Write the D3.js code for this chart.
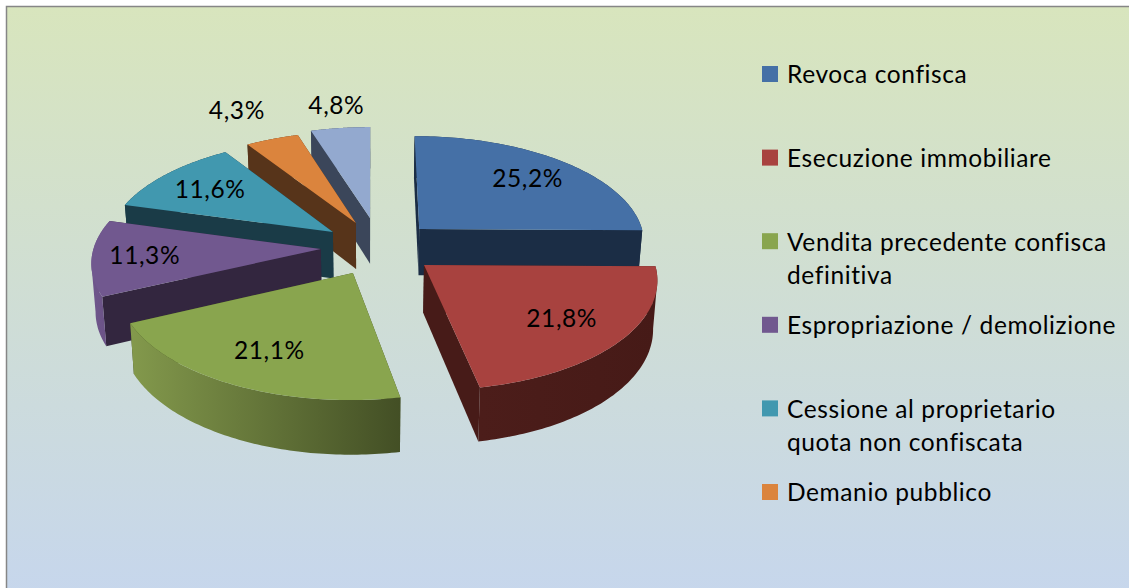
<!DOCTYPE html>
<html>
<head>
<meta charset="utf-8">
<script src="https://cdn.jsdelivr.net/npm/d3@7"></script>
<style>
    body { margin: 0; background: #fff; }
    svg { display: block; }
    text { font-family: Lato, "Open Sans", sans-serif; font-size: 24.5px; letter-spacing: 0.6px; fill: #000; }
</style>
</head>
<body>
<div id="chart-area"></div>
<script>
// Chart data
const categories = [
    ["Revoca confisca"],
    ["Esecuzione immobiliare"],
    ["Vendita precedente confisca", "definitiva"],
    ["Espropriazione / demolizione"],
    ["Cessione al proprietario", "quota non confiscata"],
    ["Demanio pubblico"],
    [] // last slice has no legend entry in the original
];
const values = [25.2, 21.8, 21.1, 11.3, 11.6, 4.3, 4.8];

// Slice colours
const topColors = ["#4570a6", "#a8423f", "#89a54e", "#71588f", "#4198af", "#db843d", "#93a9cf"];
const faceColors = ["#1b2d45", "#471b18", "#3f4a22", "#33263f", "#1a3b47", "#57341a", "#3b465a"];
const rimColors = [
    ["#1b2d45", "#1b2d45"],
    ["#4c1d1a", "#461a17"],
    ["#83994c", "#434f25"],
    ["#6f568c", "#6a5285"],
    ["#1a3b47", "#1a3b47"],
    ["#57341a", "#57341a"],
    ["#3b465a", "#3b465a"]
];

// Layout of the tilted pie
const width = 1129, height = 588;
const pieCenter = {x: 372, y: 243};
const radiusX = 226, radiusY = 106;
const perspective = 0.11;
const depth = 47;
const bottomShrink = 0.985;

// Explosion of each slice, in pie radius units, and where its label sits
const explode = [[0.212, -0.134], [0.225, 0.203], [-0.082, 0.274], [-0.225, 0.056], [-0.175, -0.105], [-0.073, -0.193], [-0.009, -0.243]];
const labelRadius = [0.74, 0.72, 0.72, 0.77, 0.725, 1.40, 1.285];
const labelTurn = [0, 0, 0, 0, 0, -1.3, 0.8];
const drawOrder = [6, 5, 4, 3, 0, 1, 2];

// Legend layout
const legend = {swatchX: 762, swatch: 16, textX: 787, firstY: 75, rowGap: 83.6, lineGap: 33};

let svg = d3.select('#chart-area').append('svg')
    .attr('width', width)
    .attr('height', height);

let defs = svg.append('defs');

let bg = defs.append('linearGradient')
    .attr('id', 'bg-gradient')
    .attr('x1', 0).attr('y1', 0).attr('x2', 0).attr('y2', 1);
bg.append('stop').attr('offset', 0).attr('stop-color', '#d8e5bd');
bg.append('stop').attr('offset', 1).attr('stop-color', '#c6d6ed');

svg.append('rect')
    .attr('x', 6.5).attr('y', 6.5)
    .attr('width', width + 10).attr('height', height + 10)
    .attr('fill', 'url(#bg-gradient)')
    .attr('stroke', '#868686')
    .attr('stroke-width', 1.5);

// Perspective projection of a point on the pie plane
const scaleX = d3.scaleLinear().domain([0, 1]).range([0, radiusX]);
const scaleY = d3.scaleLinear().domain([0, 1]).range([0, radiusY]);

function project(wx, wy, low) {
    let w = 1 / (1 - perspective * wy);
    let x = scaleX(wx) * w;
    let y = scaleY(wy) * w;
    if (low) {
        return [pieCenter.x + x * bottomShrink, pieCenter.y + y + depth * w];
    }
    return [pieCenter.x + x, pieCenter.y + y];
}

function worldPoint(i, angle, r) {
    return [explode[i][0] + Math.sin(angle) * r, explode[i][1] - Math.cos(angle) * r];
}

const arcs = d3.pie().sort(null)(values);
const line = d3.line();
const fmt = d3.formatLocale({decimal: ",", thousands: ".", grouping: [3], currency: ["", "€"]}).format(".1f");

function arcPoints(i, a0, a1, low) {
    return d3.range(0, 81).map(k => {
        let p = worldPoint(i, a0 + (a1 - a0) * k / 80, 1);
        return project(p[0], p[1], low);
    });
}

// Slices are painted from the back to the front
let pieGroup = svg.append('g').classed('pie', true);

drawOrder.forEach(i => {
    let d = arcs[i];
    let g = pieGroup.append('g');

    let apexTop = project(explode[i][0], explode[i][1], false);
    let apexLow = project(explode[i][0], explode[i][1], true);
    let rimTop = arcPoints(i, d.startAngle, d.endAngle, false);
    let rimLow = arcPoints(i, d.startAngle, d.endAngle, true);

    // cut faces, the one nearer the viewer goes last
    let faces = [
        [apexTop, rimTop[0], rimLow[0], apexLow],
        [apexTop, rimTop[80], rimLow[80], apexLow]
    ].sort((a, b) => a[1][1] - b[1][1]);

    faces.forEach(f => {
        g.append('path')
            .attr('d', line(f) + 'Z')
            .attr('fill', faceColors[i]);
    });

    // outer rim, shaded from left to right
    let rimX = d3.extent(rimTop, p => p[0]);
    let grad = defs.append('linearGradient')
        .attr('id', 'rim-' + i)
        .attr('gradientUnits', 'userSpaceOnUse')
        .attr('x1', rimX[0]).attr('x2', rimX[1])
        .attr('y1', 0).attr('y2', 0);
    grad.append('stop').attr('offset', 0).attr('stop-color', rimColors[i][0]);
    grad.append('stop').attr('offset', 1).attr('stop-color', rimColors[i][1]);

    // one quad per arc step in a single path, all wound the same way so they
    // add up with no seams and no dent where the two arcs cross
    let rimPath = d3.pairs(d3.range(rimTop.length)).map(s => {
        let quad = [rimTop[s[0]], rimTop[s[1]], rimLow[s[1]], rimLow[s[0]]];
        if (rimTop[s[1]][0] < rimTop[s[0]][0]) quad.reverse();
        return line(quad) + 'Z';
    }).join('');

    g.append('path')
        .attr('d', rimPath)
        .attr('fill', 'url(#rim-' + i + ')');

    // top of the slice
    g.append('path')
        .attr('d', line([apexTop].concat(rimTop)) + 'Z')
        .attr('fill', topColors[i]);
});

// Percent labels
svg.append('g').selectAll('text')
    .data(arcs)
    .join('text')
    .attr('text-anchor', 'middle')
    .attr('dy', '0.34em')
    .attr('transform', (d, i) => {
        let mid = (d.startAngle + d.endAngle) / 2 + labelTurn[i] * Math.PI / 180;
        let p = worldPoint(i, mid, labelRadius[i]);
        let q = project(p[0], p[1], false);
        return `translate(${q[0]},${q[1]})`;
    })
    .text(d => fmt(d.data) + '%');

// Legend
const legendY = d3.scaleLinear().domain([0, 1]).range([legend.firstY, legend.firstY + legend.rowGap]);

let rows = svg.append('g').classed('legend', true)
    .selectAll('g')
    .data(categories.filter(c => c.length > 0))
    .join('g')
    .attr('transform', (d, i) => `translate(0,${legendY(i)})`);

rows.append('rect')
    .attr('x', legend.swatchX)
    .attr('y', -legend.swatch / 2 - 1)
    .attr('width', legend.swatch)
    .attr('height', legend.swatch)
    .attr('fill', (d, i) => topColors[i]);

rows.selectAll('text')
    .data(d => d)
    .join('text')
    .attr('x', legend.textX)
    .attr('y', (d, i) => i * legend.lineGap)
    .attr('dy', '0.34em')
    .text(d => d);
</script>
</body>
</html>
